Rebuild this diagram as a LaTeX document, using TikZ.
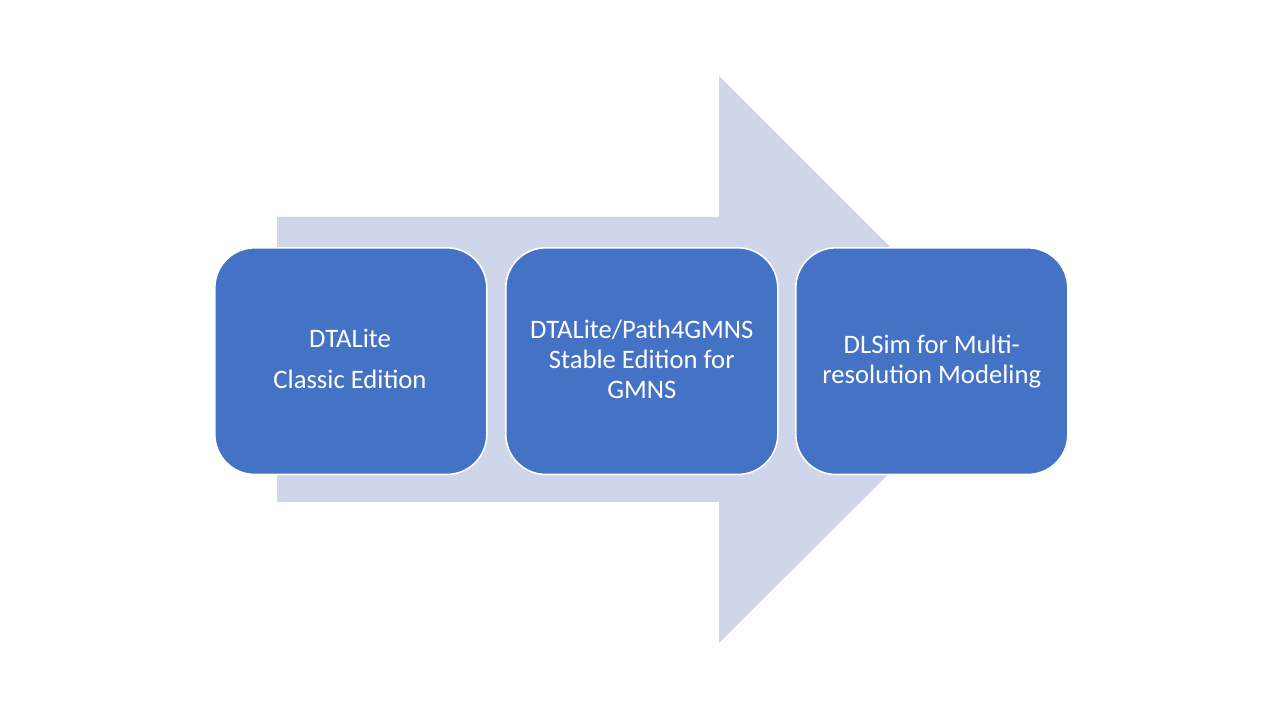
\documentclass[tikz,border=0pt]{standalone}
\usepackage{fontspec}
\setmainfont{Carlito}
\definecolor{arrowfill}{HTML}{CFD5EA}
\definecolor{boxfill}{HTML}{4472C4}
\begin{document}
\begin{tikzpicture}[x=0.75pt,y=-0.75pt,
  stagebox/.style={draw=white,line width=1.2pt,fill=boxfill,rounded corners=30pt,
    minimum width=204pt,minimum height=170pt,inner sep=0pt,anchor=north west},
  label/.style={text=white,font=\fontsize{20pt}{22.5pt}\selectfont,align=center}]
\useasboundingbox (0,0) rectangle (1280,720);
\fill[white] (0,0) rectangle (1280,720);
\fill[arrowfill] (277,217) -- (719,217) -- (719,76) -- (1003,360) -- (719,643) -- (719,502) -- (277,502) -- cycle;
\node[stagebox] (b1) at (214,247) {};
\node[stagebox] (b2) at (505,247) {};
\node[stagebox] (b3) at (795,247) {};
\node[label] (t1a) at (350,338) {DTALite};
\node[label] (t1b) at (350,379) {Classic Edition};
\node[label] (t2) at ([yshift=1.2pt]b2.center) {DTALite/Path4GMNS\\Stable Edition for\\GMNS};
\node[label] (t3) at (b3.center) {DLSim for Multi-\\resolution Modeling};
\end{tikzpicture}
\end{document}
